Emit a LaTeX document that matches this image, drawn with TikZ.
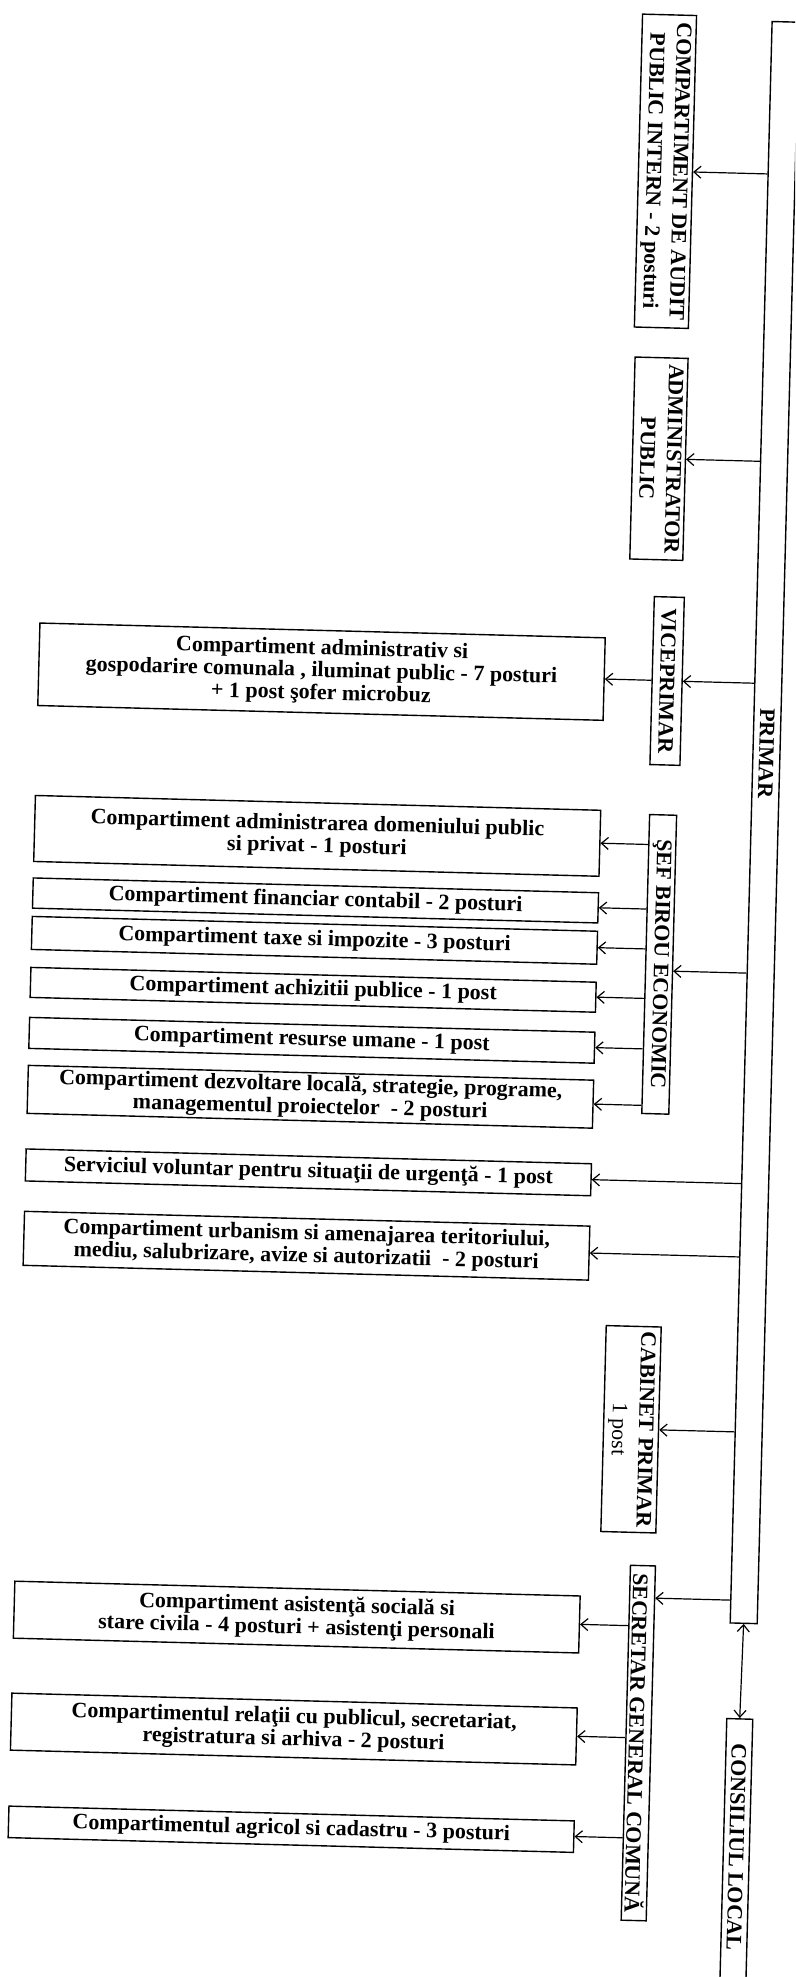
\documentclass[tikz,border=0pt]{standalone}
\usepackage{fontspec}
\setmainfont{Liberation Serif}
\usetikzlibrary{arrows.meta,calc}
\begin{document}
\begin{tikzpicture}[x=1pt,y=-1pt,
  lbox/.style={draw, line width=1.4pt, inner sep=0pt, minimum width=565.5pt, align=center, font=\bfseries\fontsize{22}{22.5}\selectfont},
  vbox/.style={draw, line width=1.4pt, inner sep=0pt, font=\bfseries\fontsize{22}{26.5}\selectfont},
  vtxt/.style={inner sep=0pt, font=\bfseries\fontsize{22}{26.5}\selectfont},
  arr/.style={line width=1.2pt, -{Straight Barb[length=7pt,width=12pt]}},
  darr/.style={line width=1.2pt, {Straight Barb[length=7pt,width=12pt]}-{Straight Barb[length=7pt,width=12pt]}},
]
\useasboundingbox (0,0) rectangle (795,1977);
\fill[white] (0,0) rectangle (795,1977);
\clip (0,0) rectangle (795,1977);
\begin{scope}[rotate around={-1.5:(397,988)}, transform shape]
% main column
\node[vbox, minimum width=27pt, minimum height=1602pt] (primar) at (760.2,813) {};
\node[vtxt] (primarlbl) at (760.2,744) {\rotatebox{-90}{PRIMAR}};
\node[vbox, minimum width=26pt, minimum height=330pt, anchor=north] (cons) at (758.8,1709) {};
\node[vtxt] (conslbl) at (758.8,1838) {\rotatebox{-90}{CONSILIUL LOCAL}};
% vertical boxes
\node[vbox, minimum width=54pt, minimum height=313pt] (audit) at (644,164.5)
  {\rotatebox{-90}{\begin{tabular}{@{}c@{}}COMPARTIMENT DE AUDIT\\PUBLIC INTERN - 2 posturi\end{tabular}}};
\node[vbox, minimum width=52pt, minimum height=202pt] (admin) at (645,452)
  {\rotatebox{-90}{\begin{tabular}{@{}c@{}}ADMINISTRATOR\\PUBLIC\end{tabular}}};
\node[vbox, minimum width=30pt, minimum height=168pt] (vice) at (659,674) {\rotatebox{-90}{VICEPRIMAR}};
\node[vbox, minimum width=27pt, minimum height=299pt] (sef) at (658.5,957.5) {\rotatebox{-90}{ŞEF BIROU ECONOMIC}};
\node[vbox, minimum width=55pt, minimum height=206pt] (cab) at (642.5,1423)
  {\rotatebox{-90}{\begin{tabular}{@{}c@{}}CABINET PRIMAR\\\mdseries 1 post\end{tabular}}};
\node[vbox, minimum width=25pt, minimum height=355pt] (sec) at (658,1736.5) {\rotatebox{-90}{SECRETAR GENERAL COMUNĂ}};
% left boxes
\node[lbox, minimum height=82.5pt] (gosp) at (313.25,673.75) {Compartiment administrativ si\\gospodarire comunala , iluminat public - 7 posturi\\+ 1 post şofer microbuz};
\node[lbox, minimum height=66pt] (e1) at (313.25,838) {Compartiment administrarea domeniului public\\si privat - 1 posturi};
\node[lbox, minimum height=30.2pt] (e2) at (313.25,902.6) {Compartiment financiar contabil - 2 posturi};
\node[lbox, minimum height=33pt] (e3) at (313.25,942.5) {Compartiment taxe si impozite - 3 posturi};
\node[lbox, minimum height=30pt] (e4) at (313.25,992) {Compartiment achizitii publice - 1 post};
\node[lbox, minimum height=31pt] (e5) at (313.25,1042.5) {Compartiment resurse umane - 1 post};
\node[lbox, minimum height=48pt] (e6) at (313.25,1099) {Compartiment dezvoltare locală, strategie, programe,\\managementul proiectelor\ \ - 2 posturi};
\node[lbox, minimum height=32pt] (s1) at (313.25,1174.6) {Serviciul voluntar pentru situaţii de urgenţă - 1 post};
\node[lbox, minimum height=54pt] (s2) at (313.25,1248) {Compartiment urbanism si amenajarea teritoriului,\\mediu, salubrizare, avize si autorizatii\ \ - 2 posturi};
\node[lbox, minimum height=57pt] (sa1) at (313.25,1619.5) {Compartiment asistenţă socială si\\stare civila - 4 posturi + asistenţi personali};
\node[lbox, minimum height=57pt] (sa2) at (313.25,1731.5) {Compartimentul relaţii cu publicul, secretariat,\\registratura si arhiva - 2 posturi};
\node[lbox, minimum height=31.5pt] (sa3) at (313.25,1831.75) {Compartimentul agricol si cadastru - 3 posturi};
% connectors from PRIMAR
\coordinate (sefin) at ($(sef.north east)!0.522!(sef.south east)$);
\coordinate (secin) at ($(sec.north east)!0.093!(sec.south east)$);
\foreach \t in {audit.east, admin.east, vice.east, sefin, s1.east, s2.east, cab.east, secin}
  \draw[arr] ($(primar.north west)!(\t)!(primar.south west)$) -- (\t);
\draw[darr] (primar.south) -- (cons.north);
% from VICEPRIMAR
\draw[arr] ($(vice.north west)!(gosp.east)!(vice.south west)$) -- (gosp.east);
% from SEF BIROU ECONOMIC
\foreach \t in {e1,e2,e3,e4,e5,e6}
  \draw[arr] ($(sef.north west)!(\t.east)!(sef.south west)$) -- (\t.east);
% from SECRETAR
\foreach \t in {sa1,sa2,sa3}
  \draw[arr] ($(sec.north west)!(\t.east)!(sec.south west)$) -- (\t.east);
\end{scope}
\end{tikzpicture}
\end{document}
